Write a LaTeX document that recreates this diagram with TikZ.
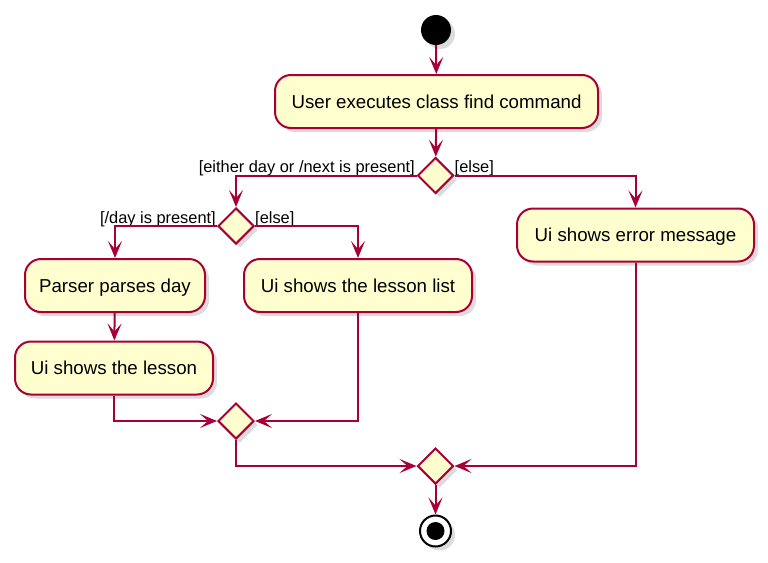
\documentclass[tikz,border=0pt]{standalone}
\usepackage{fontspec}
\setmainfont{Liberation Sans}
\usetikzlibrary{shapes.geometric,arrows.meta,shadows}
\definecolor{pborder}{HTML}{A80036}
\definecolor{pfill}{HTML}{FEFECE}
\tikzset{
  shad/.style={drop shadow={opacity=0.28,shadow xshift=4pt,shadow yshift=-4pt}},
  actbox/.style={draw=pborder,fill=pfill,line width=2pt,rounded corners=16pt,
    minimum height=53pt,inner sep=0pt,shad,
    font=\fontsize{18.7}{22}\selectfont,text height=13.4pt,text depth=0pt},
  decis/.style={diamond,draw=pborder,fill=pfill,line width=2pt,minimum width=36pt,
    minimum height=36pt,inner sep=0pt,shad},
  lbl/.style={inner sep=0pt,font=\fontsize{16.4}{19}\selectfont},
  conn/.style={draw=pborder,line width=2pt},
  arr/.style={conn,-{Stealth[length=17pt,width=14pt,inset=8pt]}}
}
\begin{document}
\begin{tikzpicture}[x=1pt,y=-1pt]
\useasboundingbox (0,0) rectangle (768,562);
\node[circle,fill=black,minimum size=30pt,inner sep=0pt,shad] (start) at (436,30) {};
\node[actbox,minimum width=323pt] (a1) at (436.5,101.5) {User executes class find command};
\node[decis] (d1) at (435.5,175.5) {};
\node[decis] (d2) at (236,226) {};
\node[actbox,minimum width=180pt] (a2) at (115,285.5) {Parser parses day};
\node[actbox,minimum width=228pt] (a3) at (358,285.5) {Ui shows the lesson list};
\node[actbox,minimum width=198pt] (a4) at (114,368) {Ui shows the lesson};
\node[actbox,minimum width=237pt] (a5) at (635.5,235) {Ui shows error message};
\node[decis] (m2) at (236,421) {};
\node[decis] (m1) at (435.5,466) {};
\node[circle,draw=black,fill=white,line width=2pt,minimum size=31pt,inner sep=0pt,shad] (end) at (435.5,531) {};
\node[circle,fill=black,minimum size=18pt,inner sep=0pt] (endin) at (end.center) {};
% labels
\node[lbl,anchor=base east] (l1) at ([xshift=-1.5pt,yshift=3.5pt]d1.west) {[either day or /next is present]};
\node[lbl,anchor=base west] (l2) at ([xshift=0pt,yshift=3.5pt]d1.east) {[else]};
\node[lbl,anchor=base east] (l3) at ([xshift=-1pt,yshift=3pt]d2.west) {[/day is present]};
\node[lbl,anchor=base west] (l4) at ([xshift=0pt,yshift=3pt]d2.east) {[else]};
% connectors
\draw[arr] (start) -- (a1);
\draw[arr] (a1) -- (d1);
\draw[arr] (d1.west) -| (d2.north);
\draw[arr] (d1.east) -| (a5.north);
\draw[arr] (d2.west) -| (a2.north);
\draw[arr] (d2.east) -| (a3.north);
\draw[arr] (a2) -- (a4);
\draw[arr] (a4.south) |- (m2.west);
\draw[arr] (a3.south) |- (m2.east);
\draw[arr] (m2.south) |- (m1.west);
\draw[arr] (a5.south) |- (m1.east);
\draw[arr] (m1.south) -- (end.north);
\end{tikzpicture}
\end{document}
